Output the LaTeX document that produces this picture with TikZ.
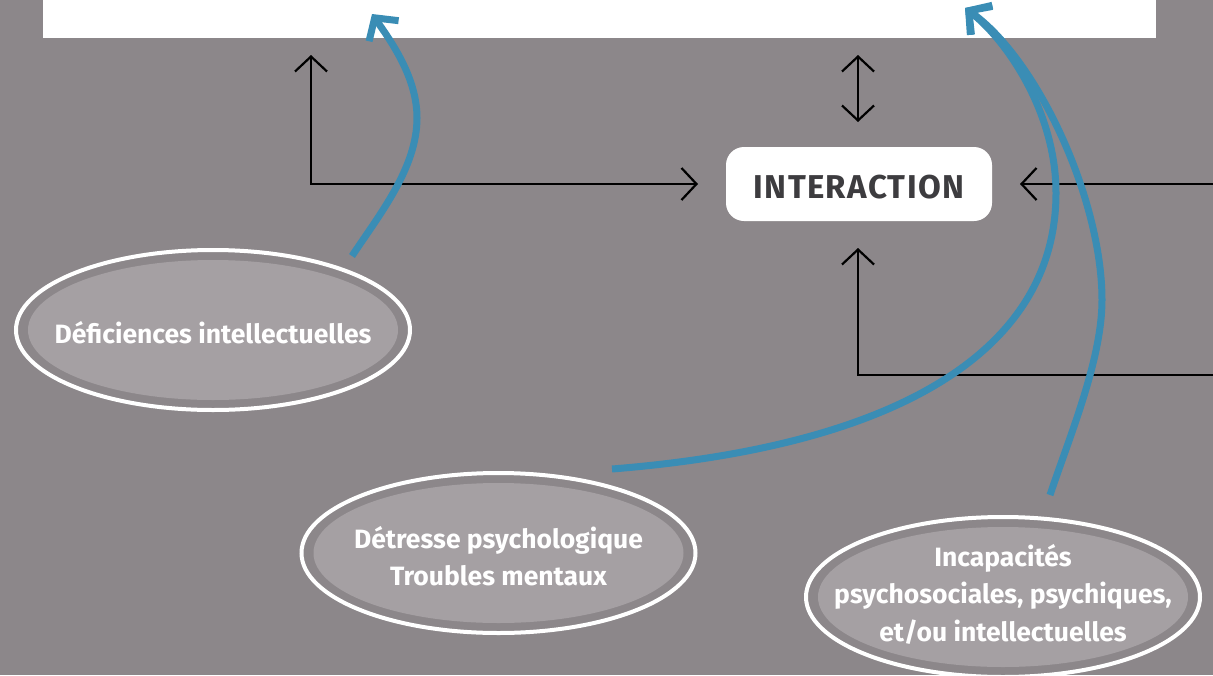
\documentclass[tikz,border=0pt]{standalone}
\usepackage{fontspec}
\setmainfont{Fira Sans}
\usetikzlibrary{arrows.meta,shapes.geometric}
\definecolor{bg}{HTML}{8C878A}
\definecolor{innerfill}{HTML}{A5A0A3}
\definecolor{blueA}{HTML}{3A8DB5}
\definecolor{darktext}{HTML}{3D3C3F}
\tikzset{
  blk/.style={draw=black, line width=2.2pt},
  bhead/.tip={Straight Barb[length=15pt,width=32pt]},
  bluehead/.tip={Straight Barb[length=16pt,width=36pt]},
  bluearrow/.style={draw=blueA, line width=7pt, -{bluehead}},
  ell/.style={ellipse, draw=white, line width=4pt, fill=bg, minimum width=394pt, minimum height=160pt, inner sep=0pt,
    path picture={\fill[innerfill] (path picture bounding box.center) ellipse [x radius=185pt, y radius=70pt];}},
  etxt/.style={text=white, font=\bfseries\fontsize{26.5}{37.5}\selectfont, align=center, inner sep=0pt},
  interbox/.style={fill=white, rounded corners=18pt, minimum width=266pt, minimum height=74pt, inner sep=0pt,
    text height=28.8pt, text depth=0pt,
    text=darktext, font=\bfseries\fontsize{33}{36}\selectfont\addfontfeatures{LetterSpace=4}}
}
\begin{document}
\begin{tikzpicture}[x=1pt,y=-1pt]
\fill[bg] (0,0) rectangle (1213,675);
\useasboundingbox (0,0) rectangle (1213,675);
% top white box (cropped)
\fill[white] (43,-5) rectangle (1156,38);
\node[minimum width=1113pt, minimum height=43pt, inner sep=0pt] (top) at (599.5,16.5) {};

% central node
\node[interbox] (inter) at (859,184) {INTERACTION};

% ellipses
\node[ell] (e1) at (213,330) {};
\node[etxt] (t1) at (213,333) {Déficiences intellectuelles};
\node[ell] (e2) at (498.5,553) {};
\node[etxt] (t2) at (498.5,556) {Détresse psychologique\\Troubles mentaux};
\node[ell] (e3) at (1003,597) {};
\node[etxt] (t3) at (1003,594) {Incapacités\\psychosociales, psychiques,\\et/ou intellectuelles};

% black connectors
\coordinate (la) at (311,55);
\coordinate (lb) at (698,184);
\draw[blk, {bhead}-{bhead}] (la) |- (lb);
\coordinate (da) at (858,55);
\coordinate (db) at (858,122);
\draw[blk, {bhead}-{bhead}] (da) -- (db);
\coordinate (ra) at (1215,184);
\coordinate (rb) at (1020,184);
\draw[blk, -{bhead}] (ra) -- (rb);
\coordinate (ba) at (1215,375);
\coordinate (bb) at (858,248);
\draw[blk, -{bhead}] (ba) -| (bb);

% blue arrows
\coordinate (s1) at (352,256);
\coordinate (m1) at (417,118);
\coordinate (k1) at (372,14);
\draw[bluearrow] (s1) .. controls (379.5,214.5) and (417,168) .. (m1)
  .. controls (417,78) and (392,42.7) .. (k1);
\coordinate (s2) at (612,469);
\coordinate (m2) at (1056,193);
\coordinate (k2) at (965,8);
\draw[bluearrow] (s2) .. controls (912,445) and (1056,343) .. (m2)
  .. controls (1056,110) and (1004.5,38.5) .. (k2);
\coordinate (s3) at (1050,495);
\coordinate (m3) at (1102,300);
\draw[bluearrow] (s3) .. controls (1069,438) and (1102,360) .. (m3)
  .. controls (1102,200) and (1038,60) .. (k2);
\end{tikzpicture}
\end{document}
